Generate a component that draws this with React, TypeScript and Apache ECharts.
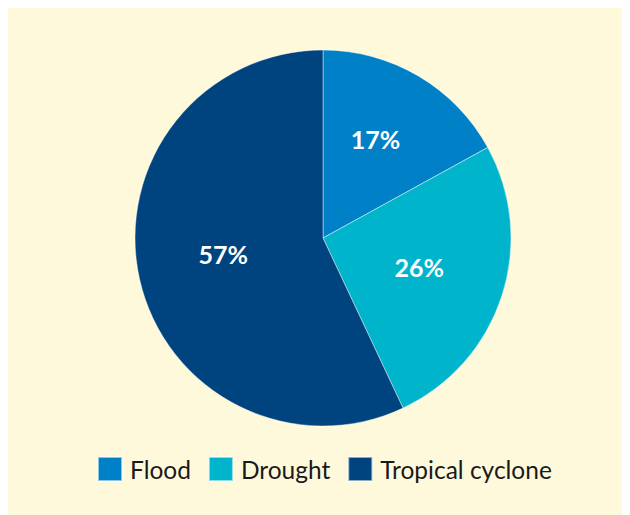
import React, { useEffect, useRef } from "react";
import * as echarts from "echarts";

const categories = ["Flood", "Drought", "Tropical cyclone"];
const values = [17, 26, 57];
const colors = ["#0080C7", "#00B4CC", "#00447F"];
// label nudges (px) relative to the default inside position
const labelOffsets = [[3, -16], [4, -1], [-5, -5]];

export default function App() {
  const ref = useRef<HTMLDivElement>(null);
  useEffect(() => {
    if (!ref.current) return;
    const chart = echarts.init(ref.current, null, { renderer: "svg" });
    chart.setOption({
      animation: false,
      backgroundColor: "#FFF9DC",
      color: colors,
      legend: {
        data: categories,
        left: 84,
        top: 443,
        itemWidth: 24,
        itemHeight: 24,
        itemGap: 17,
        icon: "rect",
        textStyle: {
          fontFamily: "Lato",
          fontSize: 24.5,
          color: "#1a1a1a",
          padding: [0, 0, 0, 3],
        },
      },
      series: [
        {
          type: "pie",
          center: [315, 230],
          radius: [0, 188],
          startAngle: 90,
          clockwise: true,
          label: {
            show: true,
            position: "inside",
            formatter: "{c}%",
            color: "#ffffff",
            fontFamily: "Lato",
            fontWeight: "bold",
            fontSize: 25,
          },
          labelLine: { show: false },
          itemStyle: { borderColor: "rgba(255,255,255,0.55)", borderWidth: 0.8 },
          emphasis: { disabled: true },
          data: categories.map((c, i) => ({
            name: c,
            value: values[i],
            label: { offset: labelOffsets[i] },
          })),
        },
      ],
    });
    return () => chart.dispose();
  }, []);
  return <div ref={ref} style={{ width: 622, height: 507 }} />;
}
